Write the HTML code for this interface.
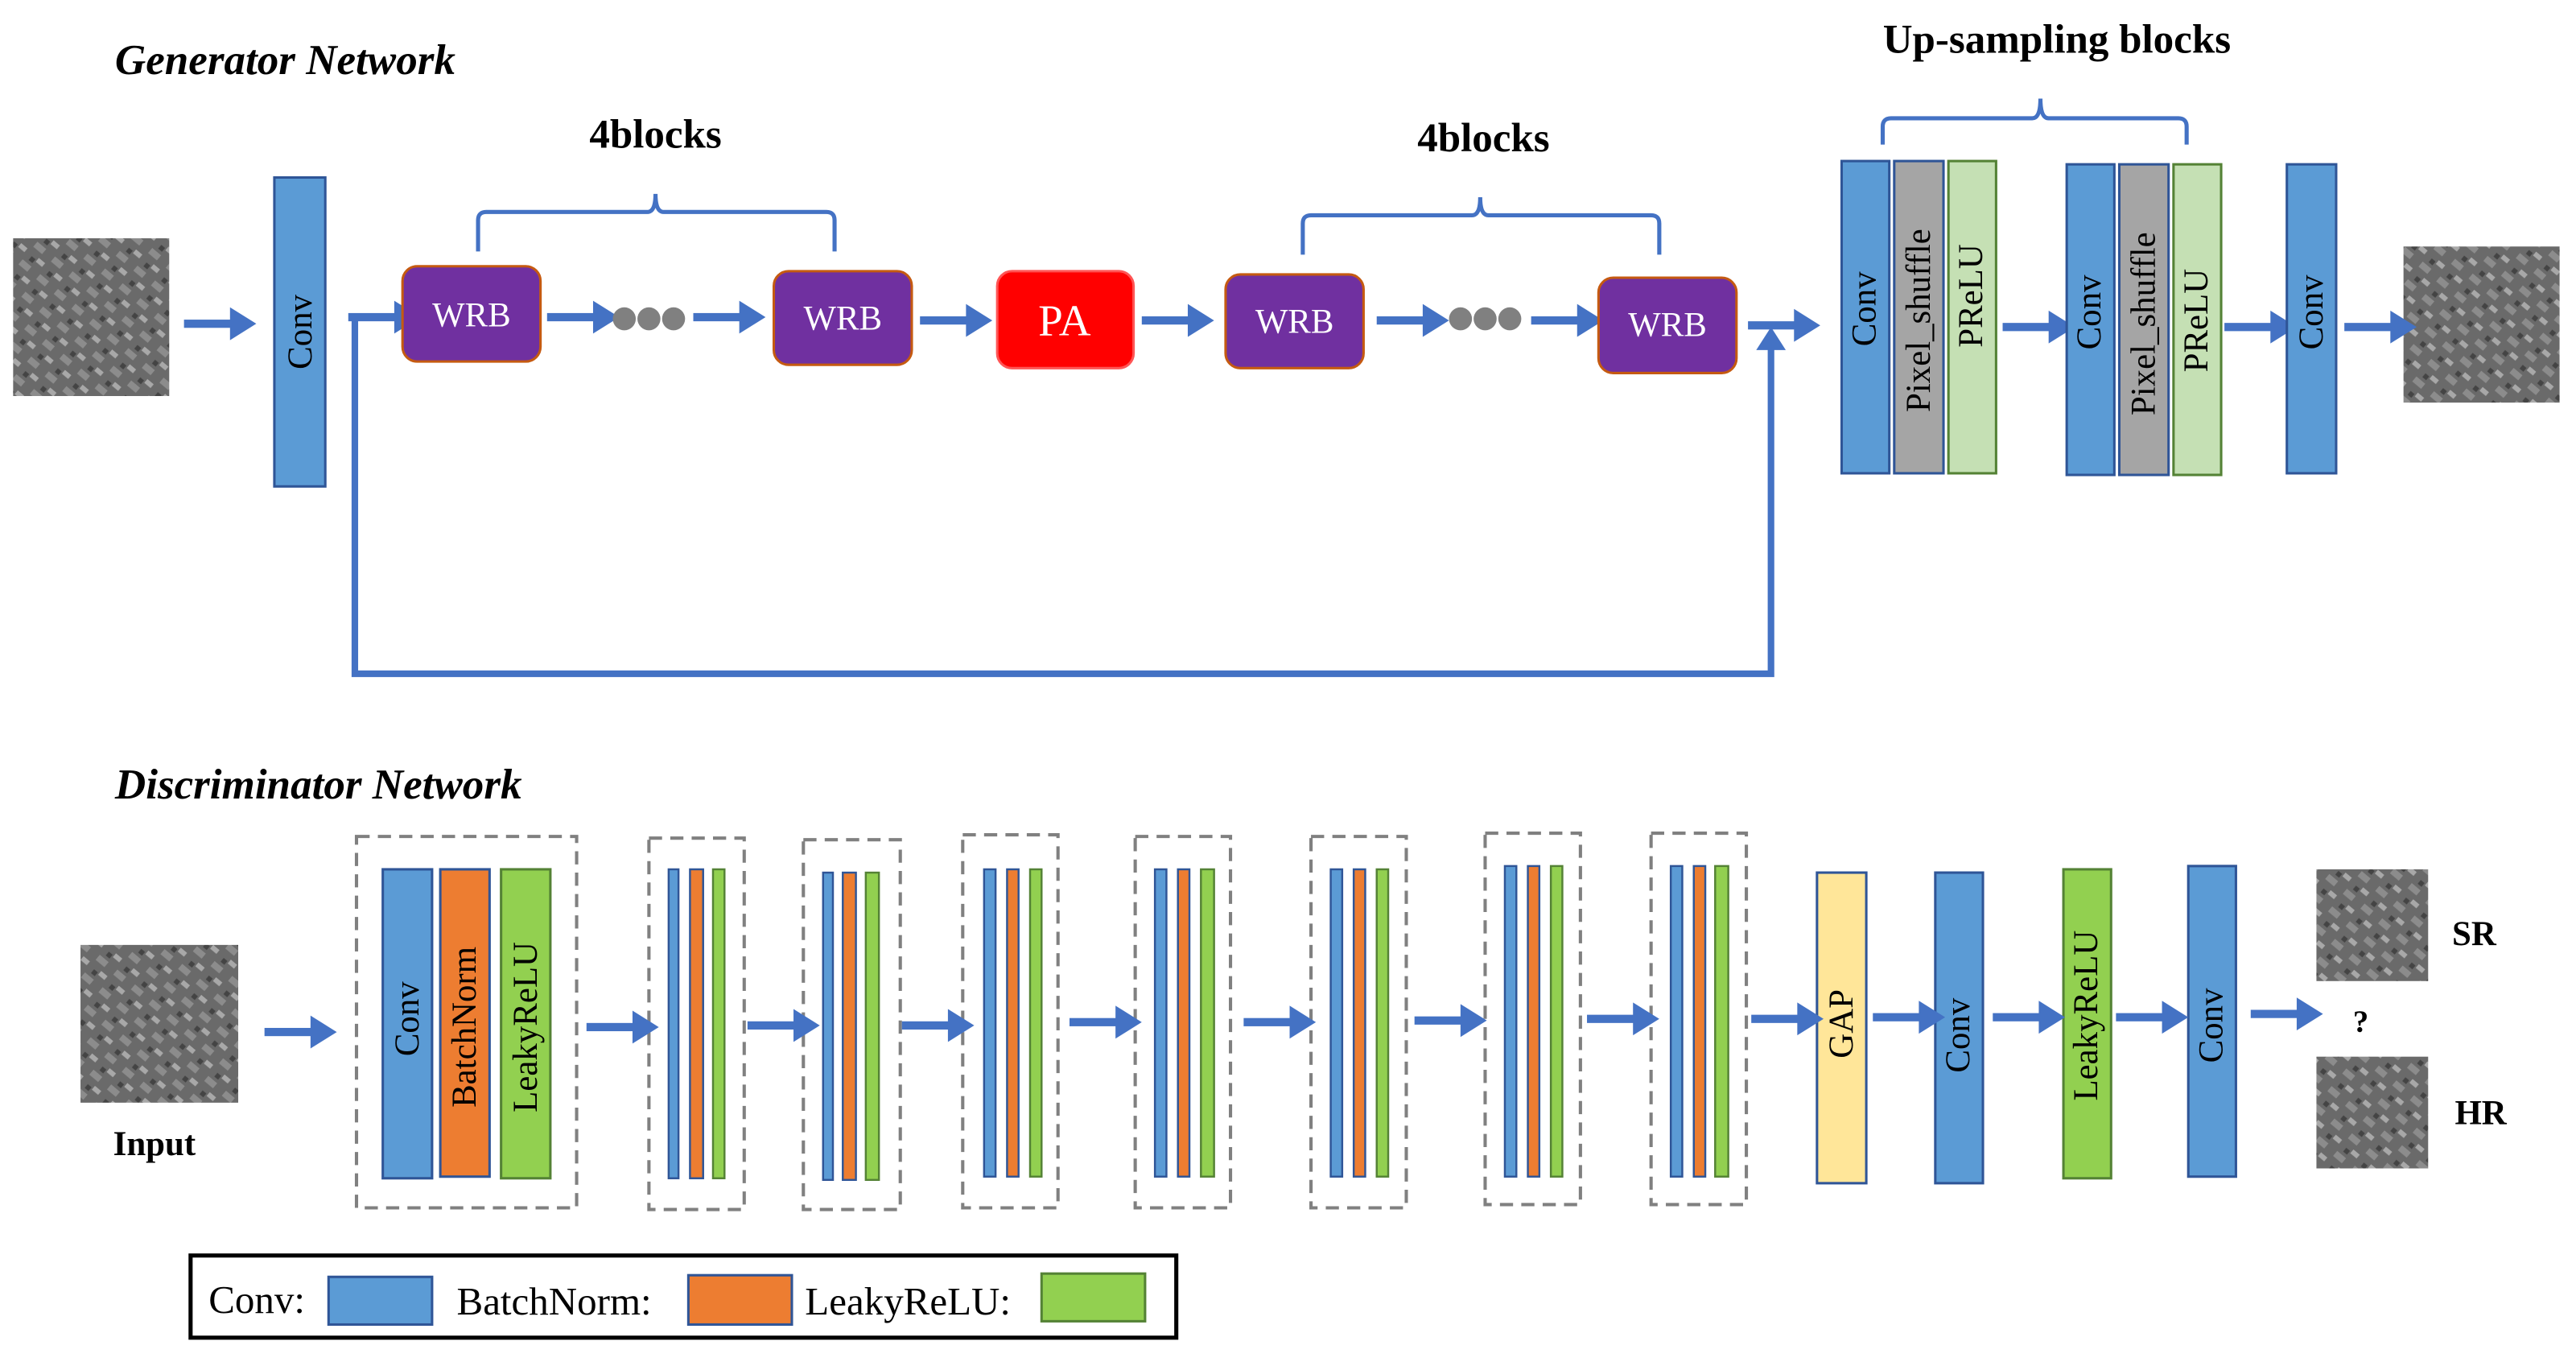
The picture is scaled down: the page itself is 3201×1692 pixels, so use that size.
<!DOCTYPE html>
<html><head><meta charset="utf-8"><style>html,body{margin:0;padding:0;background:#fff}svg{display:block}svg text{font-family:"Liberation Serif","DejaVu Serif",serif}</style></head>
<body>
<svg width="3201" height="1692" viewBox="0 0 1568 828.8" preserveAspectRatio="none" xmlns="http://www.w3.org/2000/svg">
<defs>
<pattern id="tex" width="14" height="14" patternUnits="userSpaceOnUse" patternTransform="rotate(40)">
<rect width="14" height="14" fill="#6a6a6a"/>
<rect x="0" y="0" width="7" height="4" fill="#8c8c8c"/>
<rect x="7" y="7" width="5" height="3" fill="#a8a8a8"/>
<rect x="3" y="9" width="3" height="3" fill="#444"/>
</pattern>
<g id="ar"><rect x="0" y="-2.5" width="32" height="5" fill="#4472C4"/><polygon points="28,-10 44,0 28,10" fill="#4472C4"/></g>
</defs>
<g font-weight="bold" font-style="italic" font-size="26" fill="#000">
<text x="70" y="45">Generator Network</text>
<text x="70" y="486">Discriminator Network</text>
</g>
<g font-weight="bold" font-size="25" text-anchor="middle" fill="#000">
<text x="399" y="90">4blocks</text>
<text x="903" y="92">4blocks</text>
<text x="1252" y="32">Up-sampling blocks</text>
</g>
<rect x="8" y="145" width="95" height="96" fill="url(#tex)"/>
<rect x="1463" y="150" width="95" height="95" fill="url(#tex)"/>
<rect x="49" y="575" width="96" height="96" fill="url(#tex)"/>
<rect x="1410" y="529" width="68" height="68" fill="url(#tex)"/>
<rect x="1410" y="643" width="68" height="68" fill="url(#tex)"/>
<g fill="none" stroke="#4472C4" stroke-width="2.5">
<path d="M291 153 V134 Q291 129 296 129 H394 Q399 129 399 118 Q399 129 404 129 H503 Q508 129 508 134 V153"/>
<path d="M793 155 V136 Q793 131 798 131 H896 Q901 131 901 120 Q901 131 906 131 H1005 Q1010 131 1010 136 V155"/>
<path d="M1146 88 V77 Q1146 72 1151 72 H1237 Q1242 72 1242 60 Q1242 72 1247 72 H1326 Q1331 72 1331 77 V88"/>
</g>
<path d="M216 193 V410 H1078 V212" fill="none" stroke="#4472C4" stroke-width="4"/>
<polygon points="1069,213 1078,199 1087,213" fill="#4472C4"/>
<use href="#ar" x="112" y="197"/>
<use href="#ar" x="212" y="193"/>
<use href="#ar" x="333" y="193"/>
<use href="#ar" x="422" y="193"/>
<use href="#ar" x="560" y="195"/>
<use href="#ar" x="695" y="195"/>
<use href="#ar" x="838" y="195"/>
<use href="#ar" x="932" y="195"/>
<use href="#ar" x="1064" y="198"/>
<use href="#ar" x="1219" y="199"/>
<use href="#ar" x="1354" y="199"/>
<use href="#ar" x="1427" y="199"/>
<g fill="#808080"><circle cx="380" cy="194" r="7"/><circle cx="395" cy="194" r="7"/><circle cx="410" cy="194" r="7"/>
<circle cx="889" cy="194" r="7"/><circle cx="904" cy="194" r="7"/><circle cx="919" cy="194" r="7"/></g>
<g stroke="#C55A11" stroke-width="1.5">
<rect x="245" y="162" width="84" height="58" rx="9" fill="#7030A0"/>
<rect x="471" y="165" width="84" height="57" rx="9" fill="#7030A0"/>
<rect x="607" y="165" width="83" height="59" rx="9" fill="#FF0000" stroke="#f55"/>
<rect x="746" y="167" width="84" height="57" rx="9" fill="#7030A0"/>
<rect x="973" y="169" width="84" height="58" rx="9" fill="#7030A0"/>
</g>
<g fill="#fff" font-size="21" text-anchor="middle" dominant-baseline="central">
<text x="287" y="192">WRB</text><text x="513" y="194">WRB</text>
<text x="648" y="195" font-size="27">PA</text>
<text x="788" y="196">WRB</text><text x="1015" y="198">WRB</text>
</g>
<g stroke="#2F5597" stroke-width="1.5">
<rect x="167" y="108" width="31" height="188" fill="#5B9BD5"/>
<rect x="1121" y="98" width="29" height="190" fill="#5B9BD5"/>
<rect x="1153" y="98" width="30" height="190" fill="#A5A5A5"/>
<rect x="1186" y="98" width="29" height="190" fill="#C5E0B4" stroke="#548235"/>
<rect x="1258" y="100" width="29" height="189" fill="#5B9BD5"/>
<rect x="1290" y="100" width="30" height="189" fill="#A5A5A5"/>
<rect x="1323" y="100" width="29" height="189" fill="#C5E0B4" stroke="#548235"/>
<rect x="1392" y="100" width="30" height="188" fill="#5B9BD5"/>
</g>
<g font-size="21" text-anchor="middle" dominant-baseline="central" fill="#000">
<text transform="translate(183,202) rotate(-90)">Conv</text>
<text transform="translate(1135,188) rotate(-90)">Conv</text>
<text transform="translate(1168,195) rotate(-90)">Pixel_shuffle</text>
<text transform="translate(1200,180) rotate(-90)">PReLU</text>
<text transform="translate(1272,190) rotate(-90)">Conv</text>
<text transform="translate(1305,197) rotate(-90)">Pixel_shuffle</text>
<text transform="translate(1337,195) rotate(-90)">PReLU</text>
<text transform="translate(1407,190) rotate(-90)">Conv</text>
</g>
<g fill="none" stroke="#808080" stroke-width="2" stroke-dasharray="8,5">
<rect x="217" y="509" width="134" height="226"/>
<rect x="395" y="510" width="58" height="226"/>
<rect x="489" y="511" width="59" height="225"/>
<rect x="586" y="508" width="58" height="227"/>
<rect x="691" y="509" width="58" height="226"/>
<rect x="798" y="509" width="58" height="226"/>
<rect x="904" y="507" width="58" height="226"/>
<rect x="1005" y="507" width="58" height="226"/>
</g>
<g stroke-width="1.5">
<rect x="233" y="529" width="30" height="188" fill="#5B9BD5" stroke="#2F5597"/>
<rect x="268" y="529" width="30" height="187" fill="#ED7D31" stroke="#2F5597"/>
<rect x="305" y="529" width="30" height="188" fill="#92D050" stroke="#548235"/>
</g>
<g stroke-width="1.2">
<g><rect x="407" y="529" width="6" height="188" fill="#5B9BD5" stroke="#2F5597"/><rect x="420" y="529" width="8" height="188" fill="#ED7D31" stroke="#2F5597"/><rect x="434" y="529" width="7" height="188" fill="#92D050" stroke="#548235"/></g>
<g><rect x="501" y="531" width="6" height="187" fill="#5B9BD5" stroke="#2F5597"/><rect x="513" y="531" width="8" height="187" fill="#ED7D31" stroke="#2F5597"/><rect x="527" y="531" width="8" height="187" fill="#92D050" stroke="#548235"/></g>
<g><rect x="599" y="529" width="7" height="187" fill="#5B9BD5" stroke="#2F5597"/><rect x="613" y="529" width="7" height="187" fill="#ED7D31" stroke="#2F5597"/><rect x="627" y="529" width="7" height="187" fill="#92D050" stroke="#548235"/></g>
<g><rect x="703" y="529" width="7" height="187" fill="#5B9BD5" stroke="#2F5597"/><rect x="717" y="529" width="7" height="187" fill="#ED7D31" stroke="#2F5597"/><rect x="731" y="529" width="8" height="187" fill="#92D050" stroke="#548235"/></g>
<g><rect x="810" y="529" width="7" height="187" fill="#5B9BD5" stroke="#2F5597"/><rect x="824" y="529" width="7" height="187" fill="#ED7D31" stroke="#2F5597"/><rect x="838" y="529" width="7" height="187" fill="#92D050" stroke="#548235"/></g>
<g><rect x="916" y="527" width="7" height="189" fill="#5B9BD5" stroke="#2F5597"/><rect x="930" y="527" width="7" height="189" fill="#ED7D31" stroke="#2F5597"/><rect x="944" y="527" width="7" height="189" fill="#92D050" stroke="#548235"/></g>
<g><rect x="1017" y="527" width="7" height="189" fill="#5B9BD5" stroke="#2F5597"/><rect x="1031" y="527" width="7" height="189" fill="#ED7D31" stroke="#2F5597"/><rect x="1044" y="527" width="8" height="189" fill="#92D050" stroke="#548235"/></g>
</g>
<g stroke-width="1.5">
<rect x="1106" y="531" width="30" height="189" fill="#FFE699" stroke="#2F5597"/>
<rect x="1178" y="531" width="29" height="189" fill="#5B9BD5" stroke="#2F5597"/>
<rect x="1256" y="529" width="29" height="188" fill="#92D050" stroke="#548235"/>
<rect x="1332" y="527" width="29" height="189" fill="#5B9BD5" stroke="#2F5597"/>
</g>
<g font-size="21" text-anchor="middle" dominant-baseline="central" fill="#000">
<text transform="translate(248,620) rotate(-90)">Conv</text>
<text transform="translate(283,625) rotate(-90)">BatchNorm</text>
<text transform="translate(320,625) rotate(-90)">LeakyReLU</text>
<text transform="translate(1121,623) rotate(-90)">GAP</text>
<text transform="translate(1192,630) rotate(-90)">Conv</text>
<text transform="translate(1270,618) rotate(-90)">LeakyReLU</text>
<text transform="translate(1346,624) rotate(-90)">Conv</text>
</g>
<use href="#ar" x="161" y="628"/>
<use href="#ar" x="357" y="625"/>
<use href="#ar" x="455" y="624"/>
<use href="#ar" x="549" y="624"/>
<use href="#ar" x="651" y="622"/>
<use href="#ar" x="757" y="622"/>
<use href="#ar" x="861" y="621"/>
<use href="#ar" x="966" y="620"/>
<use href="#ar" x="1066" y="620"/>
<use href="#ar" x="1140" y="619"/>
<use href="#ar" x="1213" y="619"/>
<use href="#ar" x="1288" y="619"/>
<use href="#ar" x="1370" y="617"/>
<g font-weight="bold" font-size="21" fill="#000" text-anchor="middle">
<text x="94" y="703">Input</text>
<text x="1506" y="575">SR</text>
<text x="1510" y="684">HR</text>
<text x="1437" y="628" font-size="19">?</text>
</g>
<rect x="116" y="764" width="600" height="50" fill="none" stroke="#000" stroke-width="2.5"/>
<g font-size="24" fill="#000">
<text x="127" y="799">Conv:</text>
<text x="278" y="800">BatchNorm:</text>
<text x="490" y="800">LeakyReLU:</text>
</g>
<rect x="200" y="777" width="63" height="29" fill="#5B9BD5" stroke="#2F5597" stroke-width="1.5"/>
<rect x="419" y="776" width="63" height="30" fill="#ED7D31" stroke="#2F5597" stroke-width="1.5"/>
<rect x="634" y="775" width="63" height="29" fill="#92D050" stroke="#548235" stroke-width="1.5"/>
</svg>
</body></html>
